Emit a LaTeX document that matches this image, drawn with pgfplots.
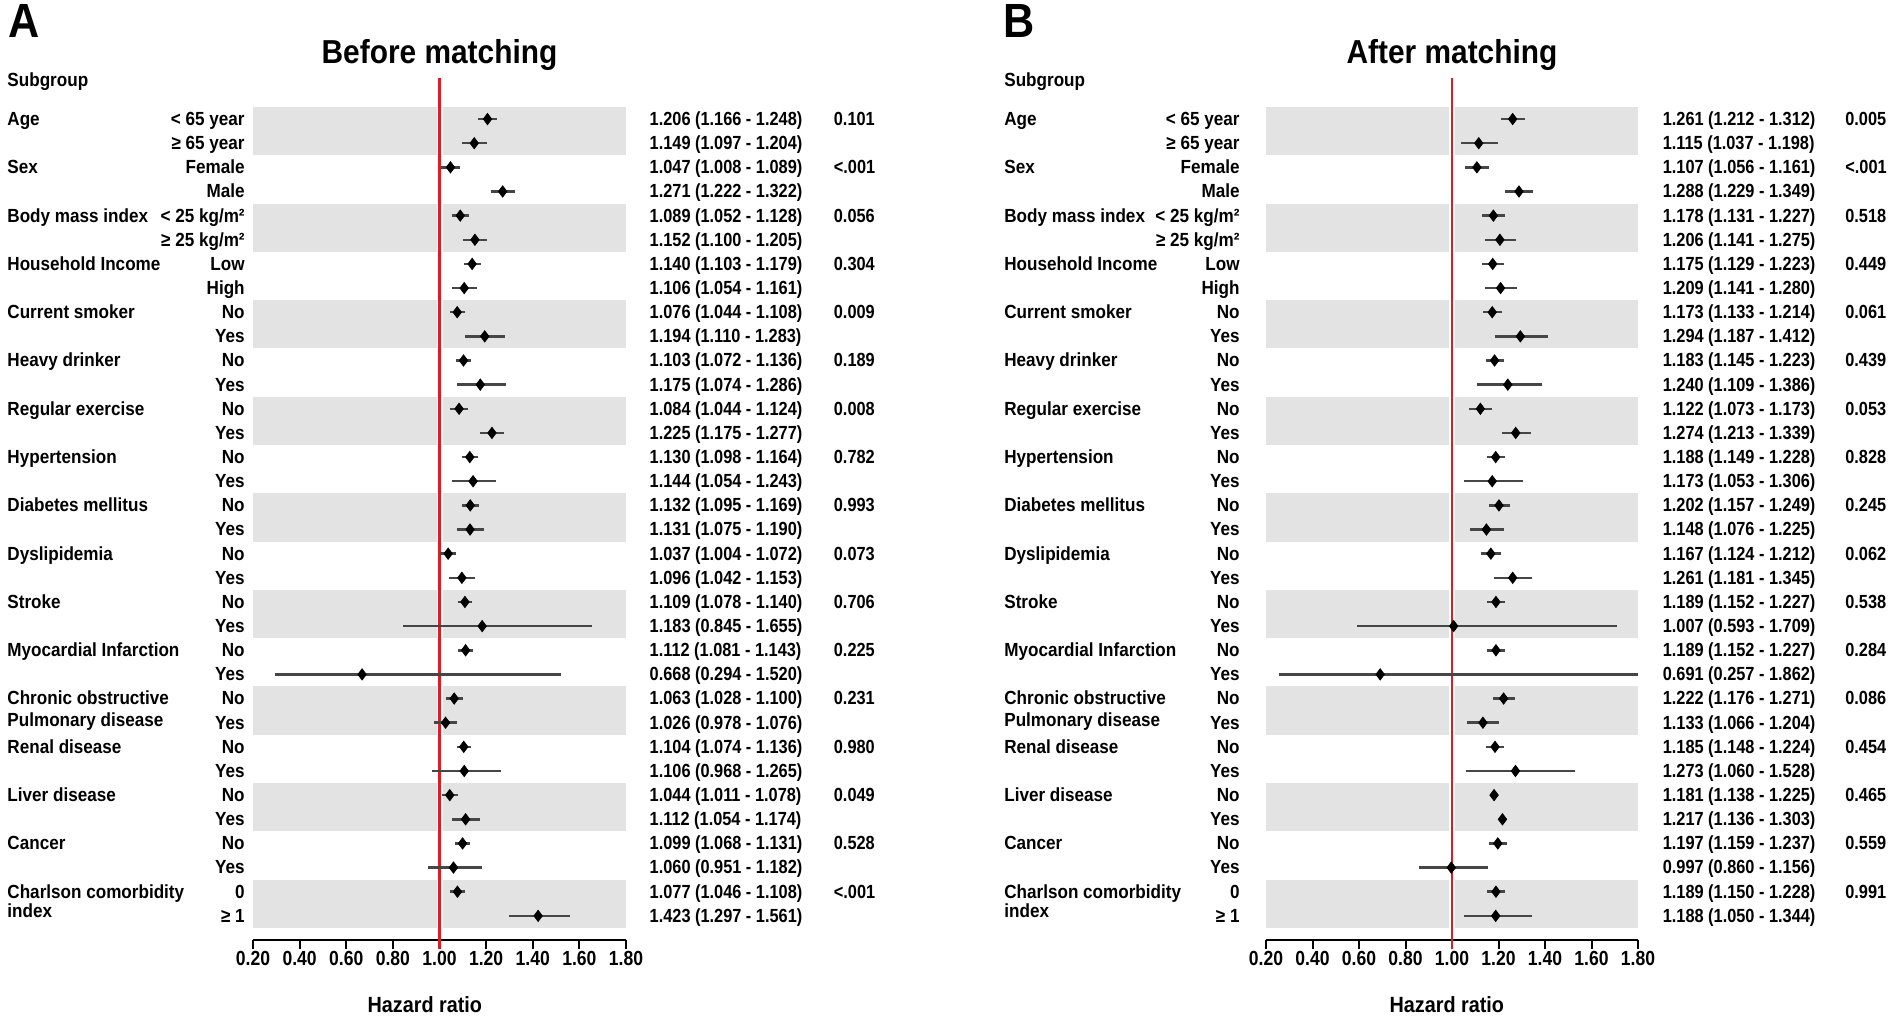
\documentclass[border=0pt]{standalone}
\usepackage{pgfplots}
\pgfplotsset{compat=1.18}
\usepackage{pgfplotstable}
\usepackage{fontspec}
\setmainfont{Liberation Sans}[FakeStretch=0.9]
\newfontfamily\numfont{Liberation Sans}[FakeStretch=0.86]

\definecolor{bandgray}{RGB}{227,227,227}
\definecolor{refred}{RGB}{222,29,35}
\definecolor{whisk}{RGB}{70,70,70}

\newcommand\lblfont{\bfseries\fontsize{9.5}{11}\selectfont}
\newcommand\datafont{\numfont\bfseries\fontsize{9.5}{11}\selectfont}
\newcommand\tickfont{\numfont\bfseries\fontsize{10.2}{11}\selectfont}

% before matching: row, HR, plotted CI, sub-label, printed CI
\pgfplotstableread[col sep=comma]{
row,hr,lo,hi,sub,ci
1,1.206,1.166,1.248,< 65 year,1.206 (1.166 - 1.248)
2,1.149,1.097,1.204,≥ 65 year,1.149 (1.097 - 1.204)
3,1.047,1.008,1.089,Female,1.047 (1.008 - 1.089)
4,1.271,1.222,1.322,Male,1.271 (1.222 - 1.322)
5,1.089,1.052,1.128,< 25 kg/m²,1.089 (1.052 - 1.128)
6,1.152,1.100,1.205,≥ 25 kg/m²,1.152 (1.100 - 1.205)
7,1.140,1.103,1.179,Low,1.140 (1.103 - 1.179)
8,1.106,1.054,1.161,High,1.106 (1.054 - 1.161)
9,1.076,1.044,1.108,No,1.076 (1.044 - 1.108)
10,1.194,1.110,1.283,Yes,1.194 (1.110 - 1.283)
11,1.103,1.072,1.136,No,1.103 (1.072 - 1.136)
12,1.175,1.074,1.286,Yes,1.175 (1.074 - 1.286)
13,1.084,1.044,1.124,No,1.084 (1.044 - 1.124)
14,1.225,1.175,1.277,Yes,1.225 (1.175 - 1.277)
15,1.130,1.098,1.164,No,1.130 (1.098 - 1.164)
16,1.144,1.054,1.243,Yes,1.144 (1.054 - 1.243)
17,1.132,1.095,1.169,No,1.132 (1.095 - 1.169)
18,1.131,1.075,1.190,Yes,1.131 (1.075 - 1.190)
19,1.037,1.004,1.072,No,1.037 (1.004 - 1.072)
20,1.096,1.042,1.153,Yes,1.096 (1.042 - 1.153)
21,1.109,1.078,1.140,No,1.109 (1.078 - 1.140)
22,1.183,0.845,1.655,Yes,1.183 (0.845 - 1.655)
23,1.112,1.081,1.143,No,1.112 (1.081 - 1.143)
24,0.668,0.294,1.520,Yes,0.668 (0.294 - 1.520)
25,1.063,1.028,1.100,No,1.063 (1.028 - 1.100)
26,1.026,0.978,1.076,Yes,1.026 (0.978 - 1.076)
27,1.104,1.074,1.136,No,1.104 (1.074 - 1.136)
28,1.106,0.968,1.265,Yes,1.106 (0.968 - 1.265)
29,1.044,1.011,1.078,No,1.044 (1.011 - 1.078)
30,1.112,1.054,1.174,Yes,1.112 (1.054 - 1.174)
31,1.099,1.068,1.131,No,1.099 (1.068 - 1.131)
32,1.060,0.951,1.182,Yes,1.060 (0.951 - 1.182)
33,1.077,1.046,1.108,0,1.077 (1.046 - 1.108)
34,1.423,1.297,1.561,≥ 1,1.423 (1.297 - 1.561)
}\tabA

% after matching (row 24 whisker cut at the axis end, liver rows drawn without whiskers)
\pgfplotstableread[col sep=comma]{
row,hr,lo,hi,sub,ci
1,1.261,1.212,1.312,< 65 year,1.261 (1.212 - 1.312)
2,1.115,1.037,1.198,≥ 65 year,1.115 (1.037 - 1.198)
3,1.107,1.056,1.161,Female,1.107 (1.056 - 1.161)
4,1.288,1.229,1.349,Male,1.288 (1.229 - 1.349)
5,1.178,1.131,1.227,< 25 kg/m²,1.178 (1.131 - 1.227)
6,1.206,1.141,1.275,≥ 25 kg/m²,1.206 (1.141 - 1.275)
7,1.175,1.129,1.223,Low,1.175 (1.129 - 1.223)
8,1.209,1.141,1.280,High,1.209 (1.141 - 1.280)
9,1.173,1.133,1.214,No,1.173 (1.133 - 1.214)
10,1.294,1.187,1.412,Yes,1.294 (1.187 - 1.412)
11,1.183,1.145,1.223,No,1.183 (1.145 - 1.223)
12,1.240,1.109,1.386,Yes,1.240 (1.109 - 1.386)
13,1.122,1.073,1.173,No,1.122 (1.073 - 1.173)
14,1.274,1.213,1.339,Yes,1.274 (1.213 - 1.339)
15,1.188,1.149,1.228,No,1.188 (1.149 - 1.228)
16,1.173,1.053,1.306,Yes,1.173 (1.053 - 1.306)
17,1.202,1.157,1.249,No,1.202 (1.157 - 1.249)
18,1.148,1.076,1.225,Yes,1.148 (1.076 - 1.225)
19,1.167,1.124,1.212,No,1.167 (1.124 - 1.212)
20,1.261,1.181,1.345,Yes,1.261 (1.181 - 1.345)
21,1.189,1.152,1.227,No,1.189 (1.152 - 1.227)
22,1.007,0.593,1.709,Yes,1.007 (0.593 - 1.709)
23,1.189,1.152,1.227,No,1.189 (1.152 - 1.227)
24,0.691,0.257,1.800,Yes,0.691 (0.257 - 1.862)
25,1.222,1.176,1.271,No,1.222 (1.176 - 1.271)
26,1.133,1.066,1.204,Yes,1.133 (1.066 - 1.204)
27,1.185,1.148,1.224,No,1.185 (1.148 - 1.224)
28,1.273,1.060,1.528,Yes,1.273 (1.060 - 1.528)
29,1.181,1.181,1.181,No,1.181 (1.138 - 1.225)
30,1.217,1.217,1.217,Yes,1.217 (1.136 - 1.303)
31,1.197,1.159,1.237,No,1.197 (1.159 - 1.237)
32,0.997,0.860,1.156,Yes,0.997 (0.860 - 1.156)
33,1.189,1.150,1.228,0,1.189 (1.150 - 1.228)
34,1.188,1.050,1.344,≥ 1,1.188 (1.050 - 1.344)
}\tabB

\pgfplotstableread[col sep=comma]{
row,name
-0.61,Subgroup
1,Age
3,Sex
5,Body mass index
7,Household Income
9,Current smoker
11,Heavy drinker
13,Regular exercise
15,Hypertension
17,Diabetes mellitus
19,Dyslipidemia
21,Stroke
23,Myocardial Infarction
25,Chronic obstructive
25.9,Pulmonary disease
27,Renal disease
29,Liver disease
31,Cancer
33,Charlson comorbidity
33.8,index
}\tabNames

\pgfplotstableread[col sep=comma]{
row,p
1,0.101
3,<.001
5,0.056
7,0.304
9,0.009
11,0.189
13,0.008
15,0.782
17,0.993
19,0.073
21,0.706
23,0.225
25,0.231
27,0.980
29,0.049
31,0.528
33,<.001
}\pA

\pgfplotstableread[col sep=comma]{
row,p
1,0.005
3,<.001
5,0.518
7,0.449
9,0.061
11,0.439
13,0.053
15,0.828
17,0.245
19,0.062
21,0.538
23,0.284
25,0.086
27,0.454
29,0.465
31,0.559
33,0.991
}\pB

\pgfplotsset{
  forest/.style={
    scale only axis, anchor=south west,
    height=431pt,
    xmin=0.2, xmax=1.8, ymin=-35, ymax=0.7,
    hide y axis, axis x line*=bottom, clip=false,
    x axis line style={-, line width=1pt},
    xtick={0.2,0.4,0.6,0.8,1.0,1.2,1.4,1.6,1.8},
    xticklabels={0.20,0.40,0.60,0.80,1.00,1.20,1.40,1.60,1.80},
    tick align=outside, major tick length=4.5pt,
    every tick/.style={black, line width=1pt},
    xticklabel style={font=\tickfont, inner sep=1pt},
  },
  txt/.style={draw=none, nodes near coords, point meta=explicit symbolic,
    nodes near coords style={anchor=#1, inner sep=0pt,
      text height=8pt, text depth=1.6pt}},
  hr/.style={only marks, mark=diamond*, mark size=2.8pt, black,
    error bars/.cd, x dir=both, x explicit, error mark=none,
    error bar style={line width=1.25pt, whisk}},
}

\newcommand\bands{%
  \pgfplotsinvokeforeach{1,5,9,13,17,21,25,29,33}{%
    \fill[bandgray] (axis cs:0.2,{0.5-##1}) rectangle (axis cs:1.8,{-1.5-##1});}%
  \addplot[white, line width=3pt] coordinates {(1,0.7) (1,-34.5)};
  \addplot[refred, line width=1.2pt] coordinates {(1,0.7) (1,-35.37)};
}

\begin{document}
\begin{tikzpicture}
\useasboundingbox (0,0) rectangle (951pt,-511.5pt);
\node[anchor=base west, font=\bfseries\fontsize{24}{27}\selectfont] at (0.5pt,-18.5pt) {A};
\node[anchor=base west, font=\bfseries\fontsize{24}{27}\selectfont] at (498pt,-18.5pt) {B};

\begin{axis}[forest, at={(126.5pt,-470pt)}, width=186.5pt]
  \bands
  \addplot[hr] table[x=hr, y expr=-\thisrow{row},
      x error plus expr=\thisrow{hi}-\thisrow{hr},
      x error minus expr=\thisrow{hr}-\thisrow{lo}] {\tabA};
  \addplot[txt=east, nodes near coords style={font=\lblfont}]
    table[x expr=0.166, y expr=-\thisrow{row}, meta=sub] {\tabA};
  \addplot[txt=west, nodes near coords style={font=\datafont}]
    table[x expr=1.900, y expr=-\thisrow{row}, meta=ci] {\tabA};
  \addplot[txt=west, nodes near coords style={font=\lblfont}]
    table[x expr=-0.855, y expr=-\thisrow{row}, meta=name] {\tabNames};
  \addplot[txt=west, nodes near coords style={font=\datafont}]
    table[x expr=2.690, y expr=-\thisrow{row}, meta=p] {\pA};
  \node[anchor=base, font=\bfseries\fontsize{16.6}{19}\selectfont]
    at (axis cs:1,0.7) [yshift=7.5pt] {Before matching};
  \node[font=\bfseries\fontsize{11}{13}\selectfont]
    at (axis cs:0.937,-37.69) {Hazard ratio};
\end{axis}

\begin{axis}[forest, at={(633pt,-470pt)}, width=186pt]
  \bands
  \addplot[hr] table[x=hr, y expr=-\thisrow{row},
      x error plus expr=\thisrow{hi}-\thisrow{hr},
      x error minus expr=\thisrow{hr}-\thisrow{lo}] {\tabB};
  \addplot[txt=east, nodes near coords style={font=\lblfont}]
    table[x expr=0.088, y expr=-\thisrow{row}, meta=sub] {\tabB};
  \addplot[txt=west, nodes near coords style={font=\datafont}]
    table[x expr=1.905, y expr=-\thisrow{row}, meta=ci] {\tabB};
  \addplot[txt=west, nodes near coords style={font=\lblfont}]
    table[x expr=-0.927, y expr=-\thisrow{row}, meta=name] {\tabNames};
  \addplot[txt=west, nodes near coords style={font=\datafont}]
    table[x expr=2.690, y expr=-\thisrow{row}, meta=p] {\pB};
  \node[anchor=base, font=\bfseries\fontsize{16.6}{19}\selectfont]
    at (axis cs:1,0.7) [yshift=7.5pt] {After matching};
  \node[font=\bfseries\fontsize{11}{13}\selectfont]
    at (axis cs:0.978,-37.69) {Hazard ratio};
\end{axis}
\end{tikzpicture}
\end{document}
